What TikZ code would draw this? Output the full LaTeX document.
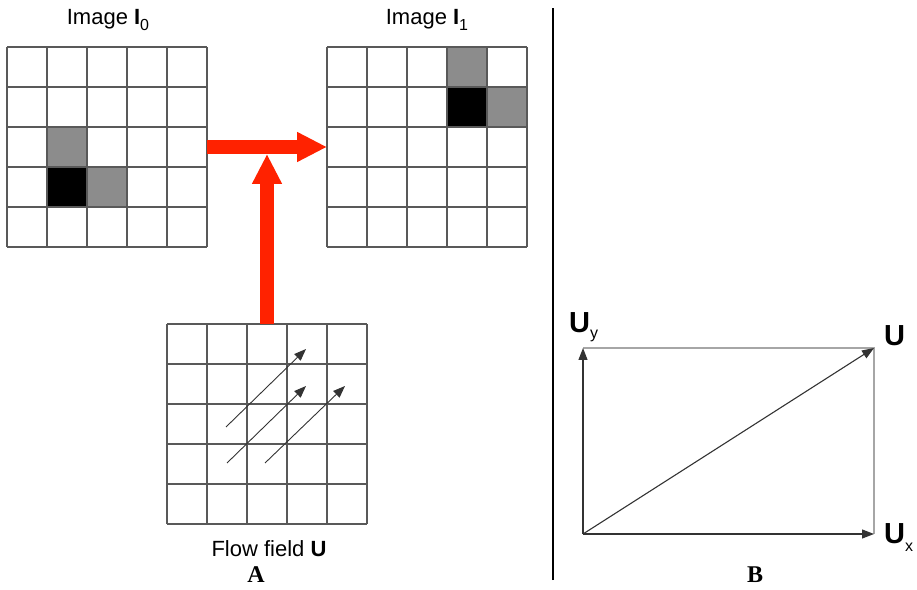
\documentclass[tikz,border=0pt]{standalone}
\usepackage{fontspec}
\setmainfont{Liberation Sans}
\newfontfamily\serifbold{Liberation Serif}
\usetikzlibrary{arrows.meta}
\definecolor{flowred}{RGB}{255,34,0}
\definecolor{cellgray}{RGB}{140,140,140}
\newcommand{\pix}[2]{\fill[#2] (#1) rectangle ++(40,40)}
\newcommand{\lowsub}[2]{\raisebox{-#1}{\fontsize{16}{16}\selectfont\mdseries #2}}

\begin{document}
\begin{tikzpicture}[x=1pt,y=1pt,
	frame/.style={minimum size=200pt,inner sep=0pt,outer sep=0pt},
	gridline/.style={draw=black!65,line width=1.2pt,step=40pt},
	flowarrow/.style={flowred,line width=14pt,-{Triangle[length=30pt,width=28pt]}},
	vec/.style={black!80,line width=1.1pt,-{Triangle[length=12pt,width=9pt]}},
	title/.style={font=\fontsize{22}{26}\selectfont,anchor=base,inner sep=0pt},
	vlabel/.style={font=\fontsize{29}{32}\selectfont\bfseries,anchor=base west,inner sep=0pt},
	panel/.style={font=\serifbold\bfseries\fontsize{24}{28}\selectfont,anchor=base,inner sep=0pt}]
	\useasboundingbox (0,0) rectangle (917,589);
		% panel A
		\node[frame] (img0) at (107,442) {};
		\node[frame] (img1) at (427,442) {};
		\node[frame] (flow) at (267,165) {};
			\pix{47,422}{cellgray};
			\pix{47,382}{black};
			\pix{87,382}{cellgray};
			\pix{447,502}{cellgray};
			\pix{447,462}{black};
			\pix{487,462}{cellgray};
		\draw[gridline,shift={(img0.south west)}] (0,0) grid (200,200);
		\draw[gridline,shift={(img1.south west)}] (0,0) grid (200,200);
		\draw[gridline,shift={(flow.south west)}] (0,0) grid (200,200);
			\draw[vec,line width=0.9pt] (226,162) -- (306,240);
			\draw[vec,line width=0.9pt] (227,126) -- (306,203);
			\draw[vec,line width=0.9pt] (265,126) -- (345,203);
		\draw[flowarrow] (img0.east) -- (img1.west);
		\draw[flowarrow,shorten >=7pt] (flow.north) -- (flow.north |- img0.east);
		\node[title] (t0) at (108,564) {Image \textbf{I}\lowsub{6pt}{0}};
		\node[title] (t1) at (427,564) {Image \textbf{I}\lowsub{6pt}{1}};
		\node[title] (tflow) at (269,33) {Flow field \textbf{U}};
		\node[panel] (pa) at (256,7) {A};
	% separator
	\draw[line width=2pt] (553,9) -- (553,581);
		% panel B
		\coordinate (o) at (583,55);
		\coordinate (ux) at (874,55);
		\coordinate (uy) at (583,241);
		\coordinate (u) at (874,241);
		\draw[black!35,line width=1.3pt] (uy) -- (u) -- (ux);
		\draw[vec] (o) -- (uy);
		\draw[vec] (o) -- (ux);
		\draw[vec] (o) -- (u);
		\node[vlabel] (lu) at (884,243) {U};
		\node[vlabel] (lux) at (884,46) {U\lowsub{8pt}{x}};
		\node[vlabel] (luy) at (569,256) {U\lowsub{6pt}{y}};
		\node[panel] (pb) at (755,7) {B};
\end{tikzpicture}
\end{document}
